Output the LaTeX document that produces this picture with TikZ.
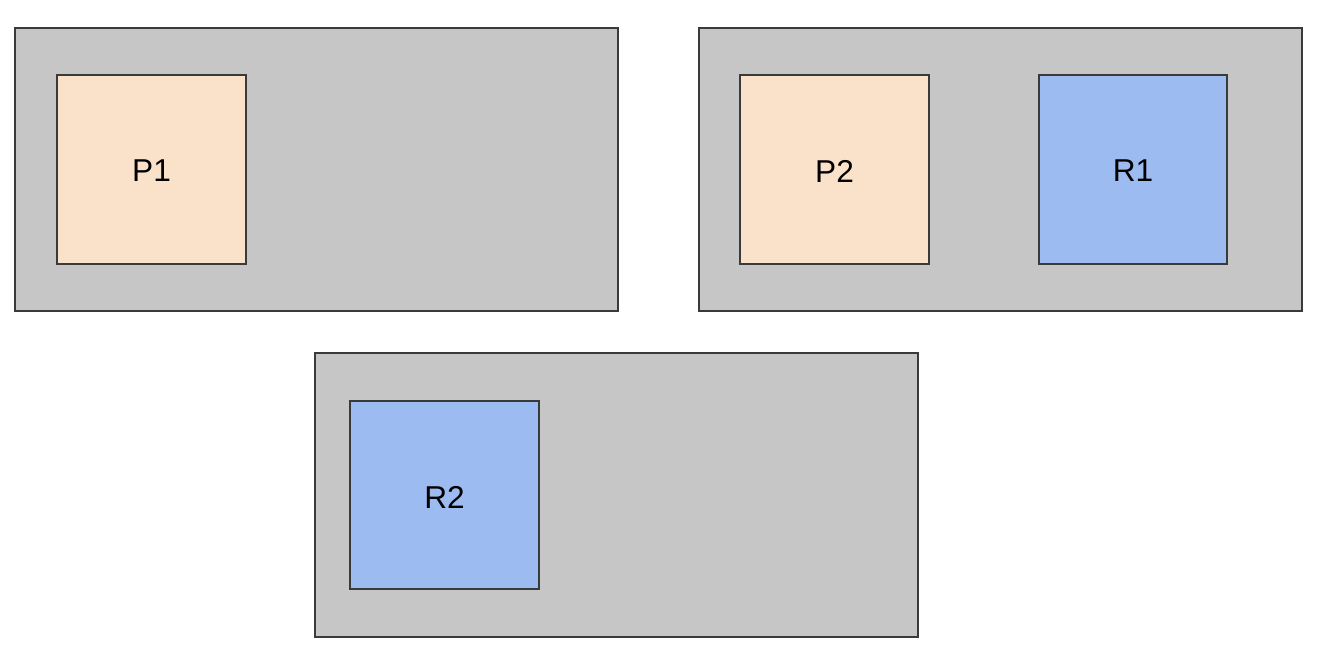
\documentclass[tikz,border=0pt]{standalone}
\usepackage{fontspec}
\setmainfont{Liberation Sans}
\definecolor{boxgray}{HTML}{C6C6C6}
\definecolor{peach}{HTML}{FAE1C9}
\definecolor{lblue}{HTML}{9CBBF0}
\definecolor{edge}{HTML}{3A3A3A}
\begin{document}
\begin{tikzpicture}[x=0.02cm,y=-0.02cm,
  container/.style={draw=edge,line width=0.9pt,fill=boxgray},
  pbox/.style={draw=edge,line width=0.9pt,fill=peach},
  rbox/.style={draw=edge,line width=0.9pt,fill=lblue},
  lbl/.style={font=\fontsize{18}{21}\selectfont,text=black}]
\useasboundingbox (0,0) rectangle (1321,661);
\fill[white] (0,0) rectangle (1321,661);
% containers
\draw[container] (15,28) rectangle (618,311);
\draw[container] (699,28) rectangle (1302,311);
\draw[container] (315,353) rectangle (918,637);
% inner boxes
\draw[pbox] (57,75) rectangle (246,264);
\node[lbl] (p1) at (151.5,171) {P1};
\draw[pbox] (740,75) rectangle (929,264);
\node[lbl] (p2) at (834.5,171) {P2};
\draw[rbox] (1039,75) rectangle (1227,264);
\node[lbl] (r1) at (1133,171) {R1};
\draw[rbox] (350,401) rectangle (539,589);
\node[lbl] (r2) at (444.5,497) {R2};
\end{tikzpicture}
\end{document}
